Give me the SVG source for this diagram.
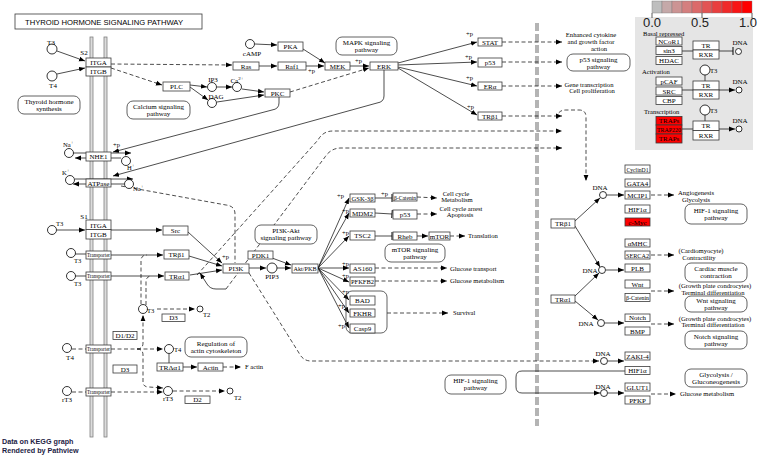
<svg xmlns="http://www.w3.org/2000/svg" width="760" height="456" viewBox="0 0 760 456">
<defs>
<style>
.bx{fill:#fff;stroke:#3a3a3a;stroke-width:.8}
.rd{fill:#ff0000;stroke:#3a3a3a;stroke-width:.8}
.pw{fill:#fff;stroke:#3a3a3a;stroke-width:.8}
.nb{fill:none;stroke:#3a3a3a;stroke-width:.8}
.c{fill:#fff;stroke:#000;stroke-width:.8}
.t{font-family:"Liberation Serif","Times New Roman",serif;font-size:7px;text-anchor:middle;fill:#000}
.s{font-family:"Liberation Serif","Times New Roman",serif;font-size:6.6px;fill:#000}
.m{text-anchor:middle}
.ln{fill:none;stroke:#000;stroke-width:.7}
.ds{fill:none;stroke:#000;stroke-width:.7;stroke-dasharray:4 2.5}
.a{marker-end:url(#ar)}
.b{marker-end:url(#br)}
.mem{fill:#dcdcdc;stroke:#808080;stroke-width:.8}
.num{font-family:"Liberation Sans",Arial,sans-serif;font-size:13px;fill:#222;text-anchor:middle}
.ft{font-family:"Liberation Sans",Arial,sans-serif;font-size:7.2px;font-weight:bold;fill:#1c2244}
</style>
<marker id="ar" viewBox="0 0 6 6" refX="6" refY="3" markerWidth="6" markerHeight="6" markerUnits="userSpaceOnUse" orient="auto"><path d="M0,0.6L6,3L0,5.4z" fill="#000"/></marker>
<marker id="br" viewBox="0 0 2 8" refX="1" refY="4" markerWidth="2" markerHeight="8" markerUnits="userSpaceOnUse" orient="auto"><path d="M1,0V8" stroke="#000" stroke-width="1"/></marker>
</defs>
<rect x="0" y="0" width="760" height="456" fill="#fff"/>

<g id="title"><rect x="15" y="14" width="187" height="15" class="bx"/><text x="104" y="25" font-family="Liberation Sans,Arial,sans-serif" font-size="8" text-anchor="middle" textLength="158" lengthAdjust="spacingAndGlyphs">THYROID HORMONE SIGNALING PATHWAY</text></g>

<g id="membrane"><rect x="90" y="37" width="3" height="400" class="mem"/><rect x="104" y="37" width="3" height="400" class="mem"/></g>
<g id="nucleus-boundary"><line x1="537" y1="23" x2="537" y2="426" stroke="#b4b4b4" stroke-width="4" stroke-dasharray="8 3"/></g>

<g id="connectors">
<path class="ln a" d="M57,51L85,61"/>
<path class="ln a" d="M57,74L85,68"/>
<path class="ds a" d="M111,64L232,65"/>
<path class="ds a" d="M111,68L162,85"/>
<path class="ln a" d="M190,85L207,87"/>
<path class="ln a" d="M190,87L208,100"/>
<path class="ln a" d="M217,87L232,87"/>
<path class="ln a" d="M242,89L264,92"/>
<path class="ln a" d="M217,102L264,95"/>
<path class="ln a" d="M255,44L277,45"/>
<path class="ln a" d="M259,66L277,66"/>
<path class="ln a" d="M306,66L324,66"/>
<path class="ln a" d="M303,49L325,63"/>
<path class="ln a" d="M350,66L369,66"/>
<path class="ds a" d="M290,92L369,68"/>
<path class="ln a" d="M398,63L477,42"/>
<path class="ln a" d="M398,65L477,62"/>
<path class="ln a" d="M398,67L477,86"/>
<path class="ln a" d="M398,68L477,115"/>
<path class="ds a" d="M502,42L562,42"/>
<path class="ds a" d="M502,62L562,62"/>
<path class="ds a" d="M502,86L562,86"/>
<path class="ds a" d="M502,116L562,116"/>
<path class="ds a" d="M557,119Q557,110 566,110L579,110Q586,110 586,117L586,181"/>
<path class="ln a" d="M384,70L384,96Q384,102 377,103L113,176"/>
<path class="ln a" d="M279,97L279,103Q279,109 272,110L113,152"/>
<path class="ln a" d="M73,153L131,153"/>
<path class="ln a" d="M121,158L75,158"/>
<path class="ln a" d="M75,179L133,179"/>
<path class="ln a" d="M124,184L73,184"/>
<path class="ds" d="M121,186L226,205Q235,206 235,214L235,263"/>
<path class="ln a" d="M57,230L85,230"/>
<path class="ln a" d="M111,230L162,230"/>
<path class="ln" d="M75,254L86,254"/>
<path class="ln a" d="M111,255L163,255"/>
<path class="ln" d="M75,276L86,276"/>
<path class="ln a" d="M111,276L164,276"/>
<path class="ds" d="M141,304L141,261Q141,255 147,255"/>
<path class="ds" d="M146,305L146,282Q146,276 152,276"/>
<path class="ln a" d="M188,232L222,263"/>
<path class="ln a" d="M189,256L222,266"/>
<path class="ln a" d="M190,275L222,270"/>
<path class="ln a" d="M249,268L266,268"/>
<path class="ln a" d="M277,268L291,268"/>
<path class="ln a" d="M272,258L291,265"/>
<path class="ln a" d="M318,268L349,198"/>
<path class="ln a" d="M318,268L349,213"/>
<path class="ln a" d="M318,268L349,236"/>
<path class="ln a" d="M318,268L349,268"/>
<path class="ln a" d="M318,268L349,282"/>
<path class="ln a" d="M318,268L349,300"/>
<path class="ln a" d="M318,268L349,313"/>
<path class="ln a" d="M318,268L349,328"/>
<path class="ln b" d="M375,198L392,198"/>
<path class="ln b" d="M375,213L392,214"/>
<path class="ln b" d="M375,236L392,236"/>
<path class="ln a" d="M417,236L428,236"/>
<path class="ds a" d="M450,236L465,236"/>
<path class="ds a" d="M417,197L437,198"/>
<path class="ds a" d="M417,214L437,214"/>
<path class="ds a" d="M375,268L447,268"/>
<path class="ds a" d="M375,281L447,281"/>
<path class="ds a" d="M387,313L448,313"/>
<path class="ds a" d="M197,275L318,140Q323,131 333,131L562,131"/>
<path class="ds a" d="M226,289L325,157Q331,148 341,148L562,148"/>
<path class="ln a" d="M226,289L216,289Q210,289 207,284L200,273"/>
<path class="ds a" d="M249,273L299,353Q303,361 311,361L599,361"/>
<path class="ln a" d="M625,371L522,371Q516,371 516,377L516,387Q516,393 522,393L600,393"/>
<path class="ln a" d="M575,221L600,198"/>
<path class="ln a" d="M575,226L600,267"/>
<path class="ln a" d="M575,296L599,273"/>
<path class="ln a" d="M575,301L598,320"/>
<path class="ln a" d="M607,195L624,195"/>
<path class="ln a" d="M606,270L624,270"/>
<path class="ln a" d="M605,323L624,323"/>
<path class="ln a" d="M608,361L624,361"/>
<path class="ln a" d="M608,393L624,393"/>
<path class="ds a" d="M651,195L674,195"/>
<path class="ds a" d="M651,255L674,255"/>
<path class="ds a" d="M651,291L674,291"/>
<path class="ds a" d="M651,324L674,324"/>
<path class="ds a" d="M651,394L676,394"/>
<path class="ds" d="M72,349L86,349"/>
<path class="ds a" d="M111,349L163,349"/>
<path class="ds a" d="M137,349Q143,349 143,343L143,315"/>
<path class="ds a" d="M137,349Q143,349 143,355L143,382Q143,387 149,387L163,388"/>
<path class="ds" d="M72,392L86,392"/>
<path class="ds a" d="M111,392L163,392"/>
<path class="ds a" d="M157,309L195,309"/>
<path class="ds a" d="M173,391L225,391"/>
<path class="ln" d="M169,354L169,363"/>
<path class="ln a" d="M183,367L197,367"/>
<path class="ds a" d="M223,367L241,367"/>
</g>

<g id="compounds">
<circle cx="52" cy="49" r="5" class="c"/><text x="51" y="45" class="t">T3</text>
<circle cx="52" cy="76" r="5" class="c"/><text x="53" y="88" class="t">T4</text>
<circle cx="250" cy="44" r="4.5" class="c"/><text x="252" y="56" class="t">cAMP</text>
<circle cx="212" cy="87" r="4.5" class="c"/><text x="213" y="82" class="t">IP3</text>
<circle cx="237" cy="87" r="4.5" class="c"/><text x="237" y="83" class="t">Ca<tspan dy="-3" font-size="5">2+</tspan></text>
<circle cx="212" cy="103" r="4.5" class="c"/><text x="216" y="99" class="t">DAG</text>
<circle cx="69" cy="153" r="4.5" class="c"/><text x="63" y="147" class="s">Na<tspan dy="-3" font-size="5">+</tspan></text>
<circle cx="126" cy="161" r="4.5" class="c"/><text x="127" y="170" class="s">H<tspan dy="-3" font-size="5">+</tspan></text>
<circle cx="70" cy="180" r="4.5" class="c"/><text x="62" y="175" class="s">K<tspan dy="-3" font-size="5">+</tspan></text>
<circle cx="129" cy="184" r="4.5" class="c"/><text x="133" y="191" class="s">Na<tspan dy="-3" font-size="5">+</tspan></text>
<circle cx="52" cy="230" r="4.5" class="c"/><text x="56" y="226" class="s">T3</text>
<circle cx="71" cy="253" r="4.5" class="c"/><text x="74" y="263" class="s">T3</text>
<circle cx="71" cy="276" r="4.5" class="c"/><text x="74" y="286" class="s">T3</text>
<circle cx="272" cy="268" r="5" class="c"/><text x="272" y="279" class="t">PIP3</text>
<circle cx="143" cy="309" r="4.5" class="c"/><text x="147" y="313" class="s">T3</text>
<circle cx="200" cy="309" r="3" class="c"/><text x="203" y="317" class="s">T2</text>
<circle cx="67" cy="348" r="4.5" class="c"/><text x="70" y="360" class="t">T4</text>
<circle cx="169" cy="349" r="4.5" class="c"/><text x="174" y="352" class="s">T4</text>
<circle cx="67" cy="391" r="4.5" class="c"/><text x="67" y="402" class="t">rT3</text>
<circle cx="168" cy="391" r="4.5" class="c"/><text x="168" y="401" class="t">rT3</text>
<circle cx="230" cy="391" r="3" class="c"/><text x="234" y="400" class="s">T2</text>
</g>

<g id="dna-sites">
<circle cx="603" cy="195" r="3.5" class="c"/><text x="600" y="190" class="t">DNA</text>
<circle cx="602" cy="270" r="3.5" class="c"/><text x="590" y="273" class="t">DNA</text>
<circle cx="601" cy="323" r="3.5" class="c"/><text x="586" y="326" class="t">DNA</text>
<circle cx="604" cy="361" r="3.5" class="c"/><text x="603" y="356" class="t">DNA</text>
<circle cx="604" cy="393" r="3.5" class="c"/><text x="603" y="389" class="t">DNA</text>
</g>

<g id="labels">
<text x="84" y="55" class="t">S2</text>
<text x="84" y="219" class="t">S1</text>
<text x="113" y="147" class="s">+p</text>
<text x="308" y="73" class="s">+p</text>
<text x="355" y="63" class="s">+p</text>
<text x="466" y="36" class="s">+p</text>
<text x="465" y="59" class="s">+p</text>
<text x="466" y="80" class="s">+p</text>
<text x="467" y="109" class="s">+p</text>
<text x="222" y="259" class="s">+p</text>
<text x="337" y="198" class="s">+p</text>
<text x="342" y="213" class="s">+p</text>
<text x="342" y="235" class="s">+p</text>
<text x="342" y="266" class="s">+p</text>
<text x="342" y="278" class="s">+p</text>
<text x="342" y="294" class="s">+p</text>
<text x="338" y="308" class="s">+p</text>
<text x="338" y="328" class="s">+p</text>
<text x="381" y="196" class="s">+p</text>
<text x="591" y="37" class="s m">Enhanced cytokine</text>
<text x="591" y="44" class="s m">and growth factor</text>
<text x="599" y="51" class="s m">action</text>
<text x="589" y="87" class="s m">Gene transcription</text>
<text x="592" y="93" class="s m">Cell proliferation</text>
<text x="456" y="196" class="s m">Cell cycle</text>
<text x="457" y="202" class="s m">Metabolism</text>
<text x="461" y="211" class="s m">Cell cycle arrest</text>
<text x="460" y="217" class="s m">Apoptosis</text>
<text x="468" y="238" class="s">Translation</text>
<text x="450" y="271" class="s">Glucose transport</text>
<text x="450" y="283" class="s">Glucose metabolism</text>
<text x="453" y="315" class="s">Survival</text>
<text x="245" y="369" class="s">F actin</text>
<text x="696" y="195" class="s m">Angiogenesis</text>
<text x="696" y="202" class="s m">Glycolysis</text>
<text x="701" y="253" class="s m">(Cardiomyocyte)</text>
<text x="699" y="260" class="s m">Contractility</text>
<text x="715" y="288" class="s m">(Growth plate condrocytes)</text>
<text x="713" y="295" class="s m">Terminal differentiation</text>
<text x="715" y="321" class="s m">(Growth plate condrocytes)</text>
<text x="713" y="327" class="s m">Terminal differentiation</text>
<text x="680" y="396" class="s">Glucose metabolism</text>
</g>

<g id="pathways">
<g id="p_thyroid_synthesis"><rect x="18" y="96" width="62" height="18" rx="6" class="pw"/><text x="49" y="104" class="t">Thyroid hormone</text><text x="49" y="111" class="t">synthesis</text></g>
<g id="p_calcium"><rect x="127" y="101" width="63" height="18" rx="6" class="pw"/><text x="158.5" y="109" class="t">Calcium signaling</text><text x="158.5" y="116" class="t">pathway</text></g>
<g id="p_mapk"><rect x="336" y="37" width="61" height="18" rx="6" class="pw"/><text x="366.5" y="45" class="t">MAPK signaling</text><text x="366.5" y="52" class="t">pathway</text></g>
<g id="p_p53"><rect x="567" y="54" width="63" height="17" rx="6" class="pw"/><text x="598.5" y="61.5" class="t">p53 signaling</text><text x="598.5" y="68.5" class="t">pathway</text></g>
<g id="p_pi3k"><rect x="255" y="225" width="62" height="19" rx="6" class="pw"/><text x="286" y="233" class="t">PI3K-Akt</text><text x="286" y="240" class="t">signaling pathway</text></g>
<g id="p_mtor"><rect x="385" y="244" width="60" height="18" rx="6" class="pw"/><text x="415" y="252" class="t">mTOR signaling</text><text x="415" y="259" class="t">pathway</text></g>
<g id="p_actin"><rect x="185" y="337" width="62" height="20" rx="6" class="pw"/><text x="216" y="345.5" class="t">Regulation of</text><text x="216" y="352.5" class="t">actin cytoskeleton</text></g>
<g id="p_hif1_left"><rect x="445" y="375" width="61" height="19" rx="6" class="pw"/><text x="475.5" y="383" class="t">HIF-1 signaling</text><text x="475.5" y="390" class="t">pathway</text></g>
<g id="p_hif1_right"><rect x="685" y="204" width="62" height="20" rx="6" class="pw"/><text x="716" y="212.5" class="t">HIF-1 signaling</text><text x="716" y="219.5" class="t">pathway</text></g>
<g id="p_cardiac"><rect x="685" y="263" width="62" height="19" rx="6" class="pw"/><text x="716" y="271" class="t">Cardiac muscle</text><text x="716" y="278" class="t">contraction</text></g>
<g id="p_wnt"><rect x="685" y="296" width="62" height="16" rx="6" class="pw"/><text x="716" y="303" class="t">Wnt signaling</text><text x="716" y="310" class="t">pathway</text></g>
<g id="p_notch"><rect x="685" y="331" width="62" height="18" rx="6" class="pw"/><text x="716" y="339" class="t">Notch signaling</text><text x="716" y="346" class="t">pathway</text></g>
<g id="p_glycolysis"><rect x="685" y="369" width="62" height="18" rx="6" class="pw"/><text x="716" y="377" class="t">Glycolysis /</text><text x="716" y="384" class="t">Gluconeogenesis</text></g>
</g>

<g id="genes">
<g id="n_ITGA_S2"><rect x="86" y="58" width="25" height="9" class="bx"/><text x="98.5" y="65" class="t">ITGA</text></g>
<g id="n_ITGB_S2"><rect x="86" y="67" width="25" height="9" class="bx"/><text x="98.5" y="74" class="t">ITGB</text></g>
<g id="n_NHE1"><rect x="86" y="152" width="25" height="9" class="bx"/><text x="98.5" y="159" class="t">NHE1</text></g>
<g id="n_ATPase"><rect x="86" y="179" width="25" height="8" class="bx"/><text x="98.5" y="185.5" class="t" textLength="22" lengthAdjust="spacingAndGlyphs">ATPase</text></g>
<g id="n_ITGA_S1"><rect x="86" y="220" width="25" height="9.5" class="bx"/><text x="98.5" y="227.5" class="t">ITGA</text></g>
<g id="n_ITGB_S1"><rect x="86" y="229.5" width="25" height="9.5" class="bx"/><text x="98.5" y="237" class="t">ITGB</text></g>
<g id="n_Transporter1"><rect x="86" y="251" width="25" height="8" class="bx"/><text x="98.5" y="257" class="t" font-size="5.5" textLength="23" lengthAdjust="spacingAndGlyphs">Transporter</text></g>
<g id="n_Transporter2"><rect x="86" y="272" width="25" height="8" class="bx"/><text x="98.5" y="278" class="t" font-size="5.5" textLength="23" lengthAdjust="spacingAndGlyphs">Transporter</text></g>
<g id="n_Transporter3"><rect x="86" y="345" width="25" height="8" class="bx"/><text x="98.5" y="351" class="t" font-size="5.5" textLength="23" lengthAdjust="spacingAndGlyphs">Transporter</text></g>
<g id="n_Transporter4"><rect x="86" y="388" width="25" height="8" class="bx"/><text x="98.5" y="394" class="t" font-size="5.5" textLength="23" lengthAdjust="spacingAndGlyphs">Transporter</text></g>
<g id="n_PLC"><rect x="163" y="82" width="27" height="9" class="bx"/><text x="176.5" y="89" class="t">PLC</text></g>
<g id="n_PKA"><rect x="278" y="42" width="25" height="9" class="bx"/><text x="290.5" y="49" class="t">PKA</text></g>
<g id="n_Ras"><rect x="233" y="62" width="26" height="8" class="bx"/><text x="246" y="68.5" class="t">Ras</text></g>
<g id="n_Raf1"><rect x="278" y="62" width="28" height="8" class="bx"/><text x="292" y="68.5" class="t">Raf1</text></g>
<g id="n_MEK"><rect x="325" y="62" width="25" height="8" class="bx"/><text x="337.5" y="68.5" class="t">MEK</text></g>
<g id="n_ERK"><rect x="370" y="62" width="28" height="8" class="bx"/><text x="384" y="68.5" class="t">ERK</text></g>
<g id="n_PKC"><rect x="265" y="89" width="25" height="8" class="bx"/><text x="277.5" y="95.5" class="t">PKC</text></g>
<g id="n_STAT"><rect x="478" y="38" width="24" height="8" class="bx"/><text x="490" y="44.5" class="t">STAT</text></g>
<g id="n_p53a"><rect x="478" y="58" width="24" height="9" class="bx"/><text x="490" y="65" class="t">p53</text></g>
<g id="n_ERa"><rect x="478" y="82" width="24" height="8" class="bx"/><text x="490" y="88.5" class="t">ERα</text></g>
<g id="n_TRb1_c"><rect x="478" y="112" width="24" height="8" class="bx"/><text x="490" y="118.5" class="t">TRβ1</text></g>
<g id="n_Src"><rect x="163" y="226" width="25" height="9" class="bx"/><text x="175.5" y="233" class="t">Src</text></g>
<g id="n_TRb1_m"><rect x="164" y="250" width="25" height="9" class="bx"/><text x="176.5" y="257" class="t">TRβ1</text></g>
<g id="n_TRa1_m"><rect x="165" y="272" width="24" height="8" class="bx"/><text x="177" y="278.5" class="t">TRα1</text></g>
<g id="n_PI3K"><rect x="223" y="264" width="26" height="9" class="bx"/><text x="236" y="271" class="t">PI3K</text></g>
<g id="n_PDK1"><rect x="248" y="251" width="25" height="8" class="bx"/><text x="260.5" y="257.5" class="t">PDK1</text></g>
<g id="n_Akt"><rect x="292" y="264" width="26" height="9" class="bx"/><text x="305" y="271" class="t" textLength="23" lengthAdjust="spacingAndGlyphs">Akt/PKB</text></g>
<g id="n_GSK3b"><rect x="350" y="194" width="25" height="8" class="bx"/><text x="362.5" y="200.5" class="t" textLength="22" lengthAdjust="spacingAndGlyphs">GSK-3β</text></g>
<g id="n_MDM2"><rect x="350" y="209" width="25" height="8" class="bx"/><text x="362.5" y="215.5" class="t">MDM2</text></g>
<g id="n_TSC2"><rect x="350" y="231" width="25" height="9" class="bx"/><text x="362.5" y="238" class="t">TSC2</text></g>
<g id="n_AS160"><rect x="350" y="264" width="25" height="9" class="bx"/><text x="362.5" y="271" class="t">AS160</text></g>
<g id="n_PFKFB2"><rect x="350" y="277" width="25" height="9" class="bx"/><text x="362.5" y="284" class="t" textLength="23" lengthAdjust="spacingAndGlyphs">PFKFB2</text></g>
<g id="n_survival_group"><rect x="346" y="291" width="41" height="42" rx="6" class="nb"/></g>
<g id="n_BAD"><rect x="350" y="296" width="25" height="9" class="bx"/><text x="362.5" y="303" class="t">BAD</text></g>
<g id="n_FKHR"><rect x="350" y="309" width="25" height="8" class="bx"/><text x="362.5" y="315.5" class="t">FKHR</text></g>
<g id="n_Casp9"><rect x="350" y="324" width="25" height="9" class="bx"/><text x="362.5" y="331" class="t">Casp9</text></g>
<g id="n_bCatenin_c"><rect x="393" y="193" width="24" height="8" class="bx"/><text x="405" y="199.5" class="t" textLength="22" lengthAdjust="spacingAndGlyphs">β-Catenin</text></g>
<g id="n_p53b"><rect x="393" y="210" width="24" height="9" class="bx"/><text x="405" y="217" class="t">p53</text></g>
<g id="n_Rheb"><rect x="393" y="232" width="24" height="8" class="bx"/><text x="405" y="238.5" class="t">Rheb</text></g>
<g id="n_mTOR"><rect x="429" y="232" width="21" height="8" class="bx"/><text x="439.5" y="238.5" class="t">mTOR</text></g>
<g id="n_TRb1_n"><rect x="551" y="219" width="24" height="9" class="bx"/><text x="563" y="226" class="t">TRβ1</text></g>
<g id="n_TRa1_n"><rect x="551" y="295" width="24" height="8" class="bx"/><text x="563" y="301.5" class="t">TRα1</text></g>
<g id="n_TRDa1"><rect x="157" y="363" width="26" height="8" class="bx"/><text x="170" y="369.5" class="t" textLength="22" lengthAdjust="spacingAndGlyphs">TRΔα1</text></g>
<g id="n_Actin"><rect x="198" y="363" width="25" height="8" class="bx"/><text x="210.5" y="369.5" class="t">Actin</text></g>
<g id="n_D3a"><rect x="162" y="314" width="23" height="7.5" class="bx"/><text x="173.5" y="320" class="t">D3</text></g>
<g id="n_D1D2"><rect x="113" y="331.5" width="24" height="8" class="bx"/><text x="125" y="337.5" class="t">D1/D2</text></g>
<g id="n_D3b"><rect x="113" y="365" width="24" height="8" class="bx"/><text x="125" y="371.5" class="t">D3</text></g>
<g id="n_D2"><rect x="185" y="396" width="25" height="7.5" class="bx"/><text x="197.5" y="402" class="t">D2</text></g>
<g id="n_CyclinD1"><rect x="625" y="165" width="25" height="8" class="bx"/><text x="637.5" y="171.5" class="t" textLength="22" lengthAdjust="spacingAndGlyphs">CyclinD1</text></g>
<g id="n_GATA4"><rect x="625" y="179" width="25" height="8" class="bx"/><text x="637.5" y="185.5" class="t">GATA4</text></g>
<g id="n_MCIP1"><rect x="625" y="191" width="25" height="8" class="bx"/><text x="637.5" y="197.5" class="t">MCIP1</text></g>
<g id="n_HIF1a_a"><rect x="625" y="205" width="25" height="8" class="bx"/><text x="637.5" y="211.5" class="t">HIF1α</text></g>
<g id="n_cMyc"><rect x="625" y="218" width="25" height="8" class="rd"/><text x="637.5" y="224.5" class="t">c-Myc</text></g>
<g id="n_aMHC"><rect x="625" y="239" width="25" height="8" class="bx"/><text x="637.5" y="245.5" class="t">αMHC</text></g>
<g id="n_SERCA2"><rect x="625" y="251" width="25" height="8" class="bx"/><text x="637.5" y="257.5" class="t" textLength="23" lengthAdjust="spacingAndGlyphs">SERCA2</text></g>
<g id="n_PLB"><rect x="625" y="264" width="25" height="8" class="bx"/><text x="637.5" y="270.5" class="t">PLB</text></g>
<g id="n_Wnt"><rect x="625" y="280" width="25" height="8" class="bx"/><text x="637.5" y="286.5" class="t">Wnt</text></g>
<g id="n_bCatenin_n"><rect x="625" y="293.5" width="25" height="8" class="bx"/><text x="637.5" y="300" class="t" textLength="23" lengthAdjust="spacingAndGlyphs">β-Catenin</text></g>
<g id="n_Notch"><rect x="625" y="314" width="25" height="7.5" class="bx"/><text x="637.5" y="320" class="t">Notch</text></g>
<g id="n_BMP"><rect x="625" y="327" width="25" height="8" class="bx"/><text x="637.5" y="333.5" class="t">BMP</text></g>
<g id="n_ZAKI4"><rect x="625" y="352" width="25" height="8" class="bx"/><text x="637.5" y="358.5" class="t">ZAKI-4</text></g>
<g id="n_HIF1a_b"><rect x="625" y="366.5" width="25" height="8" class="bx"/><text x="637.5" y="373" class="t">HIF1α</text></g>
<g id="n_GLUT1"><rect x="625" y="383" width="25" height="8" class="bx"/><text x="637.5" y="389.5" class="t">GLUT1</text></g>
<g id="n_PFKP"><rect x="625" y="396" width="25" height="8" class="bx"/><text x="637.5" y="402.5" class="t">PFKP</text></g>
</g>

<g id="legend">
<rect x="635" y="17" width="118" height="133" fill="#e5e5e5"/>
<g id="colorbar">
<rect x="652" y="1" width="10" height="12" fill="#bebebe" stroke="#777" stroke-width=".4"/>
<rect x="662" y="1" width="10" height="12" fill="#c5a9a9" stroke="#777" stroke-width=".4"/>
<rect x="672" y="1" width="10" height="12" fill="#cc9494" stroke="#777" stroke-width=".4"/>
<rect x="682" y="1" width="10" height="12" fill="#d47f7f" stroke="#777" stroke-width=".4"/>
<rect x="692" y="1" width="10" height="12" fill="#db6a6a" stroke="#777" stroke-width=".4"/>
<rect x="702" y="1" width="10" height="12" fill="#e25454" stroke="#777" stroke-width=".4"/>
<rect x="712" y="1" width="10" height="12" fill="#e93f3f" stroke="#777" stroke-width=".4"/>
<rect x="722" y="1" width="10" height="12" fill="#f02a2a" stroke="#777" stroke-width=".4"/>
<rect x="732" y="1" width="10" height="12" fill="#f81515" stroke="#777" stroke-width=".4"/>
<rect x="742" y="1" width="10" height="12" fill="#ff0000" stroke="#777" stroke-width=".4"/>
<path d="M652,13V18M702,13V18M752,13V18" stroke="#333" stroke-width=".8"/>
<text x="652" y="26.5" class="num">0.0</text>
<text x="700" y="26.5" class="num">0.5</text>
<text x="748" y="26.5" class="num">1.0</text>
</g>
<text x="643" y="36" class="s">Basal repressed</text>
<path class="ln b" d="M682,51L733,51"/>
<circle cx="738.5" cy="51.5" r="3" class="c"/><text x="740" y="45" class="t">DNA</text>
<rect x="656" y="37" width="26" height="8" class="bx"/><text x="669" y="43.5" class="t">NCoR1</text>
<rect x="656" y="46.5" width="26" height="8" class="bx"/><text x="669" y="53" class="t">sin3</text>
<rect x="656" y="56.5" width="26" height="8" class="bx"/><text x="669" y="63" class="t">HDAC</text>
<rect x="693" y="41" width="26" height="9" class="bx"/><text x="706" y="48" class="t">TR</text>
<rect x="693" y="50" width="26" height="9" class="bx"/><text x="706" y="57" class="t">RXR</text>
<text x="642" y="74" class="s">Activation</text>
<path class="ln" d="M705,75L705,81"/>
<circle cx="705" cy="70" r="5" class="c"/><text x="710" y="73" class="s">T3</text>
<path class="ln a" d="M682,90L735,90"/>
<circle cx="739" cy="90" r="3" class="c"/><text x="740" y="84" class="t">DNA</text>
<rect x="656" y="77" width="26" height="8" class="bx"/><text x="669" y="83.5" class="t">pCAF</text>
<rect x="656" y="87" width="26" height="8" class="bx"/><text x="669" y="93.5" class="t">SRC</text>
<rect x="656" y="96.5" width="26" height="8" class="bx"/><text x="669" y="103" class="t">CBP</text>
<rect x="693" y="81" width="26" height="9" class="bx"/><text x="706" y="88" class="t">TR</text>
<rect x="693" y="90" width="26" height="9" class="bx"/><text x="706" y="97" class="t">RXR</text>
<text x="644" y="114" class="s">Transcription</text>
<path class="ln" d="M705,115L705,121"/>
<circle cx="705" cy="110" r="5" class="c"/><text x="710" y="113" class="s">T3</text>
<path class="ln a" d="M682,129L735,129"/>
<circle cx="739" cy="129" r="3" class="c"/><text x="740" y="123" class="t">DNA</text>
<rect x="656" y="116.5" width="26" height="8.5" class="rd"/><text x="669" y="123" class="t">TRAPs</text>
<rect x="656" y="125" width="26" height="9" class="rd"/><text x="669" y="132" class="t" textLength="24" lengthAdjust="spacingAndGlyphs">TRAP220</text>
<rect x="656" y="134" width="26" height="9" class="rd"/><text x="669" y="141" class="t">TRAPs</text>
<rect x="693" y="121" width="26" height="9.5" class="bx"/><text x="706" y="128" class="t">TR</text>
<rect x="693" y="130.5" width="26" height="9.5" class="bx"/><text x="706" y="137.5" class="t">RXR</text>
</g>

<g id="footer">
<text x="2" y="444" class="ft">Data on KEGG graph</text>
<text x="2" y="453" class="ft">Rendered by Pathview</text>
</g>
</svg>
